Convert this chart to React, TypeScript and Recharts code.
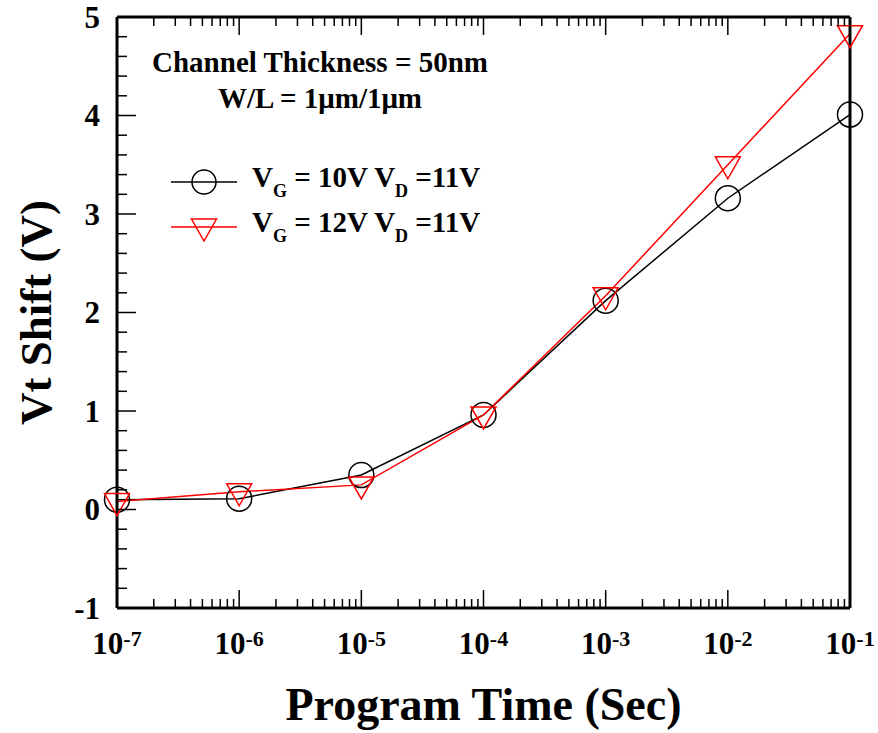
import React from 'react';
import { LineChart, Line, XAxis, YAxis, Legend } from 'recharts';

// program time (s) and threshold-voltage shift (V)
const programTimes = [1e-7, 1e-6, 1e-5, 1e-4, 1e-3, 1e-2, 1e-1];
const shiftVg10 = [0.1, 0.11, 0.35, 0.96, 2.12, 3.16, 4.01];
const shiftVg12 = [0.08, 0.18, 0.25, 0.96, 2.17, 3.5, 4.83];

const decadeTicks = [1e-7, 1e-6, 1e-5, 1e-4, 1e-3, 1e-2, 1e-1];
const decadeExponents = ['-7', '-6', '-5', '-4', '-3', '-2', '-1'];
const yMajorTicks = [-1, 0, 1, 2, 3, 4, 5];
const yMinorSteps = [0.2, 0.4, 0.6, 0.8];
const xMinorSteps = [2, 3, 4, 5, 6, 7, 8, 9];

const seriesNames = ['V_G = 10V V_D =11V', 'V_G = 12V V_D =11V'];
const noteLines = ['Channel Thickness = 50nm', 'W/L = 1\u03bcm/1\u03bcm'];

const FONT = "'Liberation Serif', 'Times New Roman', serif";

const data = programTimes.map((t, i) => ({ t, vg10: shiftVg10[i], vg12: shiftVg12[i] }));

const xTicks = [
  ...decadeTicks,
  ...decadeTicks.slice(0, -1).flatMap((d) => xMinorSteps.map((m) => m * d)),
].sort((a, b) => a - b);

const yTicks = [
  ...yMajorTicks,
  ...yMajorTicks.slice(0, -1).flatMap((v) => yMinorSteps.map((s) => +(v + s).toFixed(1))),
].sort((a, b) => a - b);

const isDecade = (v: number) => Math.abs(Math.log10(v) - Math.round(Math.log10(v))) < 1e-6;
const isInt = (v: number) => Math.abs(v - Math.round(v)) < 1e-6;

const BottomTick = (props: any) => {
  const { x, y, payload } = props;
  const major = isDecade(payload.value);
  const idx = decadeTicks.findIndex((d) => Math.abs(Math.log10(d) - Math.log10(payload.value)) < 1e-6);
  return (
    <g>
      <line x1={x} x2={x} y1={y} y2={y - (major ? 18 : 9)} stroke="#000" strokeWidth={1.5} />
      {major && (
        <text x={x} y={y + 46} textAnchor="middle" fontFamily={FONT} fontWeight="bold" fontSize={31} fill="#000">
          <tspan>10</tspan>
          <tspan dy={-8} fontSize={22}>{decadeExponents[idx]}</tspan>
        </text>
      )}
    </g>
  );
};

const TopTick = (props: any) => {
  const { x, y, payload } = props;
  const major = isDecade(payload.value);
  return <line x1={x} x2={x} y1={y} y2={y + (major ? 18 : 9)} stroke="#000" strokeWidth={1.5} />;
};

const LeftTick = (props: any) => {
  const { x, y, payload } = props;
  const major = isInt(payload.value);
  return (
    <g>
      <line x1={x} x2={x + (major ? 19 : 10)} y1={y} y2={y} stroke="#000" strokeWidth={1.5} />
      {major && (
        <text x={x - 17} y={y} dy="0.35em" textAnchor="end" fontFamily={FONT} fontWeight="bold" fontSize={31} fill="#000">
          {Math.round(payload.value)}
        </text>
      )}
    </g>
  );
};

const RightTick = (props: any) => {
  const { x, y, payload } = props;
  const major = isInt(payload.value);
  return <line x1={x} x2={x - (major ? 19 : 10)} y1={y} y2={y} stroke="#000" strokeWidth={1.5} />;
};

const CircleDot = (props: any) => {
  const { cx, cy, size = 12.5 } = props;
  if (cx == null || cy == null) return null;
  return <circle cx={cx} cy={cy} r={size} fill="none" stroke="#000" strokeWidth={1.5} />;
};

const TriangleDot = (props: any) => {
  const { cx, cy } = props;
  if (cx == null || cy == null) return null;
  const pts = `${cx - 12.5},${cy - 8} ${cx + 12.5},${cy - 8} ${cx},${cy + 14}`;
  return <polygon points={pts} fill="none" stroke="#ff0000" strokeWidth={1.5} />;
};

// "V_G" -> V with subscript G
const SubText = ({ s, x, y }: { s: string; x: number; y: number }) => {
  const parts = s.split(/_(\w)/);
  return (
    <text x={x} y={y} fontFamily={FONT} fontWeight="bold" fontSize={29} fill="#000">
      {parts.map((p, i) =>
        i % 2 === 1 ? (
          <tspan key={i} dy={10} fontSize={18}>{p}</tspan>
        ) : (
          <tspan key={i} dy={i === 0 ? 0 : -10}>{p}</tspan>
        )
      )}
    </text>
  );
};

const renderLegend = () => (
  <svg width={560} height={260} style={{ display: 'block' }}>
    {noteLines.map((n, i) => (
      <text key={n} x={320} y={72 + i * 36} textAnchor="middle" fontFamily={FONT} fontWeight="bold" fontSize={29} fill="#000">
        {n}
      </text>
    ))}
    {seriesNames.map((name, i) => {
      const cy = 182 + i * 45;
      const color = i === 0 ? '#000' : '#ff0000';
      return (
        <g key={name}>
          <line x1={171} x2={237} y1={cy} y2={cy} stroke={color} strokeWidth={1.5} />
          {i === 0 ? <CircleDot cx={204} cy={cy} size={12} /> : <TriangleDot cx={204} cy={cy} />}
          <SubText s={name} x={252} y={cy + 5} />
        </g>
      );
    })}
  </svg>
);

export default function App() {
  return (
    <div style={{ position: 'absolute', left: 0, top: 0 }}>
      <LineChart width={878} height={733} data={data} margin={{ top: 16, right: 27, bottom: 124, left: 116 }}>
        <XAxis
          xAxisId="bottom"
          dataKey="t"
          type="number"
          scale="log"
          domain={[1e-7, 1e-1]}
          ticks={xTicks}
          interval={0}
          height={1}
          tickLine={false}
          tickSize={0}
          tickMargin={0}
          tick={<BottomTick />}
          axisLine={{ stroke: '#000', strokeWidth: 3 }}
          label={{
            content: (p: any) => {
              const vb = p.viewBox;
              return (
                <text x={vb.x + vb.width / 2} y={vb.y + 112} textAnchor="middle" fontFamily={FONT} fontWeight="bold" fontSize={46} fill="#000">
                  Program Time (Sec)
                </text>
              );
            },
          }}
        />
        <XAxis
          xAxisId="top"
          orientation="top"
          dataKey="t"
          type="number"
          scale="log"
          domain={[1e-7, 1e-1]}
          ticks={xTicks}
          interval={0}
          height={1}
          tickLine={false}
          tickSize={0}
          tickMargin={0}
          tick={<TopTick />}
          axisLine={{ stroke: '#000', strokeWidth: 3 }}
        />
        <YAxis
          yAxisId="left"
          type="number"
          domain={[-1, 5]}
          ticks={yTicks}
          interval={0}
          width={1}
          tickLine={false}
          tickSize={0}
          tickMargin={0}
          tick={<LeftTick />}
          axisLine={{ stroke: '#000', strokeWidth: 3 }}
          label={{
            content: (p: any) => {
              const vb = p.viewBox;
              const cx = vb.x + vb.width - 82;
              const cy = vb.y + vb.height / 2;
              return (
                <text x={cx} y={cy} dy="0.35em" transform={`rotate(-90 ${cx} ${cy})`} textAnchor="middle" fontFamily={FONT} fontWeight="bold" fontSize={45} fill="#000">
                  Vt Shift (V)
                </text>
              );
            },
          }}
        />
        <YAxis
          yAxisId="right"
          orientation="right"
          type="number"
          domain={[-1, 5]}
          ticks={yTicks}
          interval={0}
          width={1}
          tickLine={false}
          tickSize={0}
          tickMargin={0}
          tick={<RightTick />}
          axisLine={{ stroke: '#000', strokeWidth: 3 }}
        />
        <Legend
          layout="vertical"
          align="center"
          verticalAlign="middle"
          wrapperStyle={{ left: 0, top: 0, width: 560, height: 260 }}
          content={renderLegend}
        />
        <Line
          xAxisId="bottom"
          yAxisId="left"
          type="linear"
          dataKey="vg10"
          stroke="#000"
          strokeWidth={1.5}
          dot={<CircleDot />}
          activeDot={false}
          isAnimationActive={false}
        />
        <Line
          xAxisId="bottom"
          yAxisId="left"
          type="linear"
          dataKey="vg12"
          stroke="#ff0000"
          strokeWidth={1.5}
          dot={<TriangleDot />}
          activeDot={false}
          isAnimationActive={false}
        />
      </LineChart>
    </div>
  );
}
